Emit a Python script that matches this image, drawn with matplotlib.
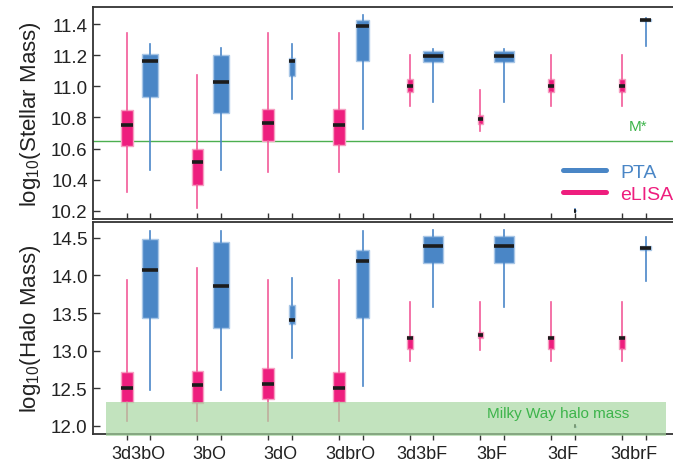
import matplotlib
matplotlib.use("Agg")
import matplotlib.pyplot as plt
from matplotlib.lines import Line2D

plt.rcParams['font.family'] = ['Liberation Sans', 'DejaVu Sans']
plt.rcParams['mathtext.fontset'] = 'custom'
plt.rcParams['mathtext.rm'] = 'Liberation Sans'
plt.rcParams['mathtext.default'] = 'regular'

# ---------------- data ----------------
categories = ['3d3bO', '3bO', '3dO', '3dbrO', '3d3bF', '3bF', '3dF', '3dbrF']

# Stellar mass (top panel)
top_elisa_lo = [10.32, 10.215, 10.448, 10.448, 10.871, 10.714, 10.871, 10.871]
top_elisa_q1 = [10.618, 10.366, 10.648, 10.624, 10.962, 10.756, 10.962, 10.962]
top_elisa_med = [10.752, 10.514, 10.765, 10.752, 11.003, 10.788, 11.003, 11.003]
top_elisa_q3 = [10.845, 10.597, 10.852, 10.852, 11.05, 10.816, 11.05, 11.05]
top_elisa_hi = [11.34, 11.073, 11.34, 11.34, 11.202, 10.975, 11.202, 11.202]

top_pta_lo = [10.465, 10.465, 10.916, 10.724, 10.897, 10.897, 10.19, 11.26]
top_pta_q1 = [10.933, 10.828, 11.064, 11.162, 11.156, 11.156, 10.197, 11.417]
top_pta_med = [11.162, 11.028, 11.166, 11.389, 11.194, 11.194, 10.2, 11.427]
top_pta_q3 = [11.207, 11.204, 11.185, 11.425, 11.226, 11.226, 10.203, 11.434]
top_pta_hi = [11.27, 11.245, 11.27, 11.46, 11.24, 11.24, 10.21, 11.438]

# Halo mass (bottom panel)
bot_elisa_lo = [12.057, 12.057, 12.057, 12.057, 12.867, 13.013, 12.867, 12.867]
bot_elisa_q1 = [12.318, 12.305, 12.354, 12.31, 13.02, 13.173, 13.02, 13.02]
bot_elisa_med = [12.504, 12.54, 12.553, 12.504, 13.163, 13.212, 13.163, 13.163]
bot_elisa_q3 = [12.716, 12.725, 12.769, 12.716, 13.19, 13.252, 13.19, 13.19]
bot_elisa_hi = [13.933, 14.102, 13.933, 13.933, 13.65, 13.65, 13.65, 13.65]

bot_pta_lo = [12.469, 12.469, 12.902, 12.535, 13.579, 13.579, 11.98, 13.929]
bot_pta_q1 = [13.433, 13.30, 13.358, 13.433, 14.163, 14.163, 11.985, 14.336]
bot_pta_med = [14.066, 13.858, 13.406, 14.186, 14.398, 14.398, 11.99, 14.367]
bot_pta_q3 = [14.49, 14.45, 13.61, 14.345, 14.53, 14.53, 11.995, 14.398]
bot_pta_hi = [14.597, 14.597, 13.969, 14.588, 14.61, 14.61, 12.0, 14.513]

m_star = 10.65
mw_halo_lo, mw_halo_hi = 11.87, 12.31

top_yticks = [10.2, 10.4, 10.6, 10.8, 11.0, 11.2, 11.4]
bot_yticks = [12.0, 12.5, 13.0, 13.5, 14.0, 14.5]

# ---------------- style ----------------
elisa_widths = [0.170, 0.151, 0.170, 0.174, 0.085, 0.075, 0.085, 0.085]
pta_widths = [0.222, 0.226, 0.089, 0.179, 0.287, 0.287, 0.028, 0.165]
OFF = 0.1667

ELISA_FACE, ELISA_EDGE, ELISA_WHISK = '#ee1e7e', '#f6a0c2', '#f25a98'
PTA_FACE, PTA_EDGE, PTA_WHISK = '#4a86c6', '#a8c6e6', '#4a86c8'
MED = '#1c1c1c'
SPINE = '#333333'
GREEN_TXT = '#3db44b'

W, H = 673, 464
fig = plt.figure(figsize=(W / 100, H / 100), dpi=100)
left = 93.3 / W
ax1 = fig.add_axes([left, 1 - 220 / H, 1 - left, (220 - 8) / H])
ax2 = fig.add_axes([left, 1 - 435 / H, 1 - left, (435 - 223.3) / H])

xlim = (-0.639, 7.554)


def draw(ax, lo, q1, med, q3, hi, widths, pos_off, face, edge, whisk):
    stats = [dict(whislo=a, q1=b, med=c, q3=d, whishi=e, fliers=[])
             for a, b, c, d, e in zip(lo, q1, med, q3, hi)]
    positions = [i + pos_off for i in range(len(stats))]
    ax.bxp(stats, positions=positions, widths=widths, patch_artist=True,
           showcaps=False, showfliers=False,
           boxprops=dict(facecolor=face, edgecolor=edge, linewidth=1.0),
           whiskerprops=dict(color=whisk, linewidth=1.2),
           medianprops=dict(color=MED, linewidth=2.6, solid_capstyle='butt'),
           manage_ticks=False, zorder=3)
    return positions


for ax in (ax1, ax2):
    ax.set_xlim(*xlim)
    for side in ('right',):
        ax.spines[side].set_visible(False)
    for side in ('left', 'top', 'bottom'):
        ax.spines[side].set_color(SPINE)
        ax.spines[side].set_linewidth(1.3)

pe = draw(ax1, top_elisa_lo, top_elisa_q1, top_elisa_med, top_elisa_q3, top_elisa_hi,
          elisa_widths, -OFF, ELISA_FACE, ELISA_EDGE, ELISA_WHISK)
pp = draw(ax1, top_pta_lo, top_pta_q1, top_pta_med, top_pta_q3, top_pta_hi,
          pta_widths, OFF, PTA_FACE, PTA_EDGE, PTA_WHISK)
draw(ax2, bot_elisa_lo, bot_elisa_q1, bot_elisa_med, bot_elisa_q3, bot_elisa_hi,
     elisa_widths, -OFF, ELISA_FACE, ELISA_EDGE, ELISA_WHISK)
draw(ax2, bot_pta_lo, bot_pta_q1, bot_pta_med, bot_pta_q3, bot_pta_hi,
     pta_widths, OFF, PTA_FACE, PTA_EDGE, PTA_WHISK)

# top panel
ax1.set_ylim(10.147, 11.51)
ax1.axhline(m_star, color='#4caf50', linewidth=1.0, zorder=2)
ax1.text(7.06, 10.744, 'M*', color=GREEN_TXT, fontsize=11, ha='center', va='center')
ax1.set_yticks(top_yticks)
ax1.set_yticklabels([f'{v:.1f}' for v in top_yticks])
ax1.set_ylabel('log$_{10}$(Stellar Mass)', fontsize=16, color='#222222', labelpad=6)

# bottom panel
ax2.set_ylim(11.89, 14.707)
ax2.fill_between([-0.458, 7.454], mw_halo_lo, mw_halo_hi, color='#a6d6a0',
                 alpha=0.68, linewidth=0, zorder=5, clip_on=False)
ax2.text(5.93, 12.168, 'Milky Way halo mass', color=GREEN_TXT, fontsize=11,
         ha='center', va='center', zorder=6)
ax2.set_yticks(bot_yticks)
ax2.set_yticklabels([f'{v:.1f}' for v in bot_yticks])
ax2.set_ylabel('log$_{10}$(Halo Mass)', fontsize=16, color='#222222', labelpad=6)

minor_pos = sorted(pe + pp)
for ax, direc in ((ax1, 'in'), (ax2, 'out')):
    ax.set_xticks(range(len(categories)))
    ax.set_xticks(minor_pos, minor=True)
    ax.tick_params(axis='x', which='major', length=0, pad=8)
    ax.tick_params(axis='x', which='minor', length=4, width=1.0,
                   direction=direc, color=SPINE)
    ax.tick_params(axis='y', direction='in', length=5, width=1.0,
                   color=SPINE, labelsize=13.5, labelcolor='#222222', pad=4)
ax1.set_xticklabels([])
ax2.set_xticklabels(categories, fontsize=13, color='#222222')

handles = [Line2D([], [], color=PTA_FACE, lw=3.6, solid_capstyle='round'),
           Line2D([], [], color=ELISA_FACE, lw=3.6, solid_capstyle='round')]
leg = ax1.legend(handles, ['PTA', 'eLISA'], loc='center right',
                 bbox_to_anchor=(1.0, 0.17), frameon=False, fontsize=14,
                 handlelength=2.2, handletextpad=0.7, labelspacing=0.2,
                 borderaxespad=0.0, borderpad=0.0)
for t, c in zip(leg.get_texts(), [PTA_FACE, ELISA_FACE]):
    t.set_color(c)

fig.savefig('out.png', dpi=100)
